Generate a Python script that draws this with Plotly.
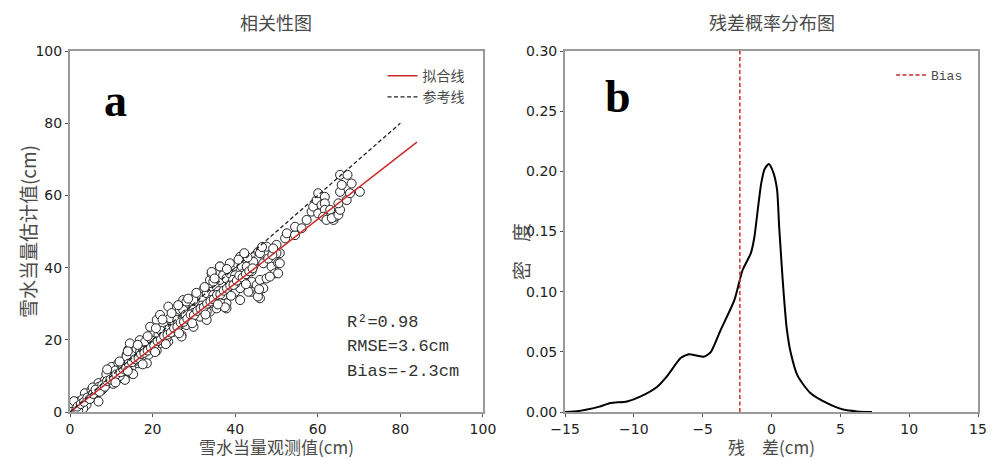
import plotly.graph_objects as go

# ---- panel a: observed vs. estimated snow water equivalent (cm) ----
OBS = [
    0.4, 1.2, 2.0, 2.4, 2.8, 3.6, 4.4, 3.6, 5.2, 6.1, 6.9, 7.7, 6.9, 8.5, 9.3, 10.1, 11.7, 13.3, 9.3, 10.9,
    12.9, 10.1, 11.7, 14.9, 16.5, 18.2, 14.9, 15.3, 13.7, 15.7, 17.4, 19.0, 14.5, 14.1, 15.3, 16.9, 19.0, 13.7, 16.1, 17.7,
    19.4, 16.9, 18.2, 19.8, 21.8, 14.5, 20.6, 22.2, 23.8, 18.6, 0.8, 1.5, 0.2, 1.0, 3.0, 5.0, 4.0, 5.5, 7.0, 8.0,
    9.5, 11.0, 12.0, 12.5, 13.5, 8.8, 10.5, 3.2, 2.0, 6.5, 16.0, 17.0, 18.0, 20.0, 21.0,
    20.2, 19.4, 21.4, 23.4, 21.0, 21.8, 22.6, 23.4, 25.0, 27.0, 25.0, 26.6, 28.2, 29.9, 24.2, 25.8, 27.4, 29.5, 31.5, 26.6,
    27.4, 28.2, 29.5, 31.9, 29.1, 30.3, 30.7, 23.8, 33.5, 35.5, 37.5, 37.9, 32.3, 34.3, 31.9, 33.9, 35.5, 37.1, 34.3, 36.3,
    37.9, 33.9, 27.0, 25.0, 33.1, 29.0, 31.5, 27.4, 29.9, 33.1, 35.5, 28.2, 29.9, 32.3, 33.9, 36.3, 37.9, 33.1, 34.7, 37.1,
    35.5, 37.1, 34.7, 36.3, 37.1, 37.9, 38.7, 38.7, 40.0, 41.2, 39.5, 40.4, 41.6, 42.0, 43.2, 44.4, 45.2, 45.6, 47.2, 46.8,
    44.0, 44.0, 45.6, 46.0, 45.2, 46.0, 47.6, 48.8, 49.6, 50.4, 50.8, 50.0, 52.1, 43.2, 40.0, 41.2, 46.8, 41.2, 37.5, 34.3,
    39.5, 42.8, 44.4, 41.2, 38.7, 36.3, 47.6, 46.0, 50.0, 50.8, 50.4, 48.4, 45.5, 45.8, 46.5, 22.0, 24.0, 26.0, 28.0, 30.0,
    32.0, 34.0, 36.0, 38.0, 40.0, 42.0, 44.0, 48.0, 49.0,
    49.2, 52.5, 54.5, 54.5, 56.1, 57.3, 58.5, 58.9, 59.7, 60.1, 61.7, 60.9, 61.7, 60.1, 61.7, 63.0, 61.3, 62.1, 63.8, 64.2,
    63.4, 65.0, 65.4, 65.0, 67.0, 65.4, 67.8, 70.2, 65.8, 68.2, 65.4, 67.2,
    1.8, 2.6, 3.4, 4.2, 4.8, 5.6, 6.2, 7.2, 7.8, 8.4, 9.0, 9.8, 10.6, 11.2, 12.2, 12.8, 13.6, 14.2, 15.0, 15.8,
    16.6, 17.2, 18.0, 18.8, 19.6, 20.4, 21.2, 22.0, 22.8, 23.6, 24.4, 25.2, 26.0, 26.8, 27.6, 28.4, 29.2, 30.0, 30.8, 31.6,
    32.4, 33.2, 34.0, 34.8, 35.6, 36.4, 37.2, 38.0, 38.8, 39.6, 40.4, 41.0, 41.8, 42.6, 43.4, 44.2, 9.0, 12.0, 14.0, 16.4,
    18.8, 20.8, 22.4, 24.6, 26.2, 28.6, 30.6, 32.6, 35.0, 38.0, 40.8, 43.0, 42.2, 11.0, 14.0, 17.6, 20.6, 23.2, 26.4, 29.6,
    32.8, 35.8, 39.0, 42.6,
]
EST = [
    1.0, 1.9, 2.9, 1.0, 0.6, 1.9, 3.3, 5.2, 6.1, 4.2, 2.9, 6.1, 8.0, 8.9, 8.0, 8.9, 9.3, 8.9, 11.2, 10.7,
    11.2, 12.5, 13.5, 12.5, 13.5, 13.9, 10.7, 10.5, 15.8, 16.3, 15.3, 16.3, 17.6, 17.2, 16.3, 15.8, 15.8, 15.3, 17.6, 18.1,
    17.6, 19.9, 19.5, 19.9, 19.0, 19.0, 19.0, 20.9, 19.5, 13.5, 0.3, 0.5, 2.5, 3.0, 3.5, 4.5, 2.0, 6.8, 7.0, 6.5,
    9.8, 11.5, 10.0, 12.8, 13.0, 10.5, 7.8, 1.0, 0.4, 5.5, 14.2, 16.8, 17.0, 18.2, 17.0,
    22.2, 23.6, 21.3, 20.4, 25.5, 26.9, 24.1, 22.7, 22.2, 21.3, 24.6, 24.1, 24.1, 23.6, 26.0, 26.9, 26.4, 26.0, 26.4, 28.3,
    31.0, 29.2, 28.3, 29.2, 30.6, 31.9, 30.1, 29.2, 31.5, 31.9, 32.9, 30.1, 33.8, 33.3, 31.9, 36.6, 35.7, 35.2, 38.4, 40.3,
    39.3, 27.8, 20.9, 22.7, 25.5, 26.4, 28.7, 28.3, 28.3, 27.8, 28.7, 30.6, 31.0, 31.0, 30.1, 30.6, 28.7, 32.9, 32.4, 32.4,
    34.7, 34.7, 36.1, 36.6, 37.9, 37.0, 35.2, 38.4, 37.9, 36.6, 40.3, 41.2, 40.3, 38.4, 38.9, 40.3, 42.1, 44.4, 44.0, 41.2,
    36.1, 33.3, 33.3, 31.5, 35.2, 36.6, 37.0, 40.3, 38.4, 41.2, 44.0, 46.3, 48.1, 33.3, 33.3, 34.3, 34.3, 31.0, 29.0, 38.8,
    36.6, 40.3, 41.6, 43.0, 41.2, 40.3, 45.8, 44.0, 44.0, 41.2, 38.4, 37.5, 32.0, 34.0, 45.7, 22.5, 23.0, 25.5, 27.0, 27.5,
    29.5, 31.0, 33.5, 34.0, 35.5, 37.0, 39.0, 42.5, 43.5,
    45.3, 49.5, 49.0, 51.3, 50.9, 53.2, 55.5, 56.9, 58.7, 60.6, 59.6, 57.3, 57.8, 55.0, 56.0, 56.0, 54.1, 53.2, 53.2, 54.1,
    53.7, 54.6, 56.0, 57.8, 58.7, 61.0, 60.6, 61.0, 62.9, 63.3, 65.7, 65.7,
    1.5, 2.2, 2.8, 4.0, 3.6, 5.0, 6.2, 5.6, 7.4, 7.0, 8.6, 9.0, 9.6, 10.4, 11.0, 12.0, 12.2, 13.4, 13.8, 14.6,
    15.0, 16.0, 16.4, 17.0, 17.8, 18.4, 19.6, 20.0, 21.0, 21.4, 22.0, 23.2, 23.6, 24.8, 25.0, 25.8, 27.0, 26.8, 28.0, 28.6,
    29.0, 30.0, 30.6, 31.2, 32.4, 32.6, 33.6, 34.2, 35.0, 35.2, 36.4, 37.8, 37.2, 38.2, 39.0, 39.8, 11.8, 14.0, 16.8, 18.6,
    21.0, 23.2, 25.6, 27.4, 29.6, 31.4, 33.0, 34.6, 37.0, 39.6, 42.2, 42.8, 44.0, 8.2, 11.4, 13.2, 16.6, 18.8, 21.8, 24.6,
    27.0, 29.8, 32.2, 35.4,
]

# fitted regression line and 1:1 reference line
FIT_SLOPE = 0.89
FIT_INTERCEPT = 0.0
FIT_RANGE = [0, 84]
REF_RANGE = [0, 80]

STATS = ["R²=0.98", "RMSE=3.6cm", "Bias=-2.3cm"]
STATS_Y = [24.9, 18.1, 11.2]

# ---- panel b: residual density (cm) ----
RES_X = [-15.0, -14.0, -13.4, -12.5, -11.7, -10.5, -9.5, -8.3, -7.6, -6.6, -6.0, -5.4, -4.9, -4.4, -3.7,
         -2.7, -2.1, -1.5, -1.25, -1.0, -0.75, -0.5, -0.2, 0.1, 0.4, 0.55, 0.75, 0.9, 1.1, 1.4,
         1.9, 2.8, 4.0, 5.2, 6.2, 7.3]
RES_DENSITY = [0.0, 0.0008, 0.002, 0.0045, 0.0075, 0.0088, 0.013, 0.021, 0.0296, 0.0448, 0.048, 0.0468, 0.046, 0.050, 0.068,
               0.093, 0.118, 0.132, 0.145, 0.168, 0.190, 0.202, 0.206, 0.200, 0.185, 0.155, 0.120, 0.096, 0.070, 0.049,
               0.030, 0.016, 0.0075, 0.002, 0.0005, 0.0]
BIAS = -2.3

CJK = "Noto Sans CJK SC"
TICK_FONT = dict(family="DejaVu Sans", size=14, color="#222")
FRAME = "#9a9a9a"
RED = "#cc2b2b"
TEXT = "#4a4a4a"

fig = go.Figure()

fig.add_trace(go.Scatter(
    x=OBS, y=EST, mode="markers", showlegend=False,
    marker=dict(symbol="circle", size=9, color="white", line=dict(color="#222", width=1)),
    xaxis="x", yaxis="y",
))
fig.add_trace(go.Scatter(
    x=FIT_RANGE, y=[FIT_INTERCEPT + FIT_SLOPE * v for v in FIT_RANGE], mode="lines",
    name="拟合线", line=dict(color=RED, width=1.5), legend="legend",
    xaxis="x", yaxis="y",
))
fig.add_trace(go.Scatter(
    x=REF_RANGE, y=REF_RANGE, mode="lines", name="参考线",
    line=dict(color="#222", width=1.3, dash="4px,2.5px"), legend="legend",
    xaxis="x", yaxis="y",
))

fig.add_trace(go.Scatter(
    x=RES_X, y=RES_DENSITY, mode="lines", showlegend=False,
    line=dict(color="black", width=2, shape="spline", smoothing=0.6),
    xaxis="x2", yaxis="y2",
))
fig.add_trace(go.Scatter(
    x=[BIAS, BIAS], y=[0, 0.30], mode="lines", name="Bias",
    line=dict(color=RED, width=1.5, dash="4px,2.5px"), legend="legend2",
    xaxis="x2", yaxis="y2",
))

axis_common = dict(
    showline=True, mirror=True, linecolor=FRAME, linewidth=2,
    ticks="outside", ticklen=3, tickwidth=1, tickcolor="#555",
    showgrid=False, zeroline=False, tickfont=TICK_FONT, automargin=False,
)

# plot area spans pixels x 70..978, y 51..412
fig.update_layout(
    width=1006, height=459,
    margin=dict(l=70, r=28, t=51, b=47),
    paper_bgcolor="white", plot_bgcolor="white",
    xaxis=dict(domain=[0.0, 0.4548], range=[0, 100], tickvals=[0, 20, 40, 60, 80, 100],
               anchor="y", **axis_common),
    yaxis=dict(domain=[0.0, 1.0], range=[0, 100], tickvals=[0, 20, 40, 60, 80, 100],
               anchor="x", **axis_common),
    xaxis2=dict(domain=[0.5452, 1.0], range=[-15, 15], tickvals=[-15, -10, -5, 0, 5, 10, 15],
                anchor="y2", **axis_common),
    yaxis2=dict(domain=[0.0, 1.0], range=[0, 0.30], tickvals=[0, 0.05, 0.10, 0.15, 0.20, 0.25, 0.30],
                tickformat=".2f", anchor="x2", **axis_common),
    legend=dict(x=0.44, xanchor="right", y=0.975, yanchor="top", bgcolor="rgba(0,0,0,0)",
                font=dict(family=CJK, size=14, color=TEXT), tracegroupgap=0, itemwidth=30),
    legend2=dict(x=0.989, xanchor="right", y=0.975, yanchor="top", bgcolor="rgba(0,0,0,0)",
                 font=dict(family="Liberation Mono", size=13, color=TEXT), itemwidth=30),
)


def label(text, x, y, size=19, family=CJK, color=TEXT, angle=0):
    return dict(text=text, x=x, y=y, xref="paper", yref="paper", xanchor="center", yanchor="middle",
                textangle=angle, font=dict(family=family, size=size, color=color), showarrow=False)


annotations = [
    label("相关性图", 0.2274, 1.080, size=18),
    label("残差概率分布图", 0.7726, 1.080, size=18),
    label("雪水当量观测值(cm)", 0.2274, -0.0942, size=17),
    label("残　差(cm)", 0.7726, -0.0942, size=17),
    label("雪水当量估计值(cm)", -0.0474, 0.501, angle=-90),
    label("密　度", 0.4956, 0.443, angle=-90),
    label("<b>a</b>", 0.0496, 0.864, size=46, family="Liberation Serif", color="black"),
    label("<b>b</b>", 0.6035, 0.8726, size=46, family="Liberation Serif", color="black"),
]
for txt, yv in zip(STATS, STATS_Y):
    annotations.append(dict(text=txt, x=66.6, y=yv, xref="x", yref="y", xanchor="left", yanchor="middle",
                            font=dict(family="Liberation Mono", size=17, color="#333"), showarrow=False))
fig.update_layout(annotations=annotations)

fig.write_html("out.html")
